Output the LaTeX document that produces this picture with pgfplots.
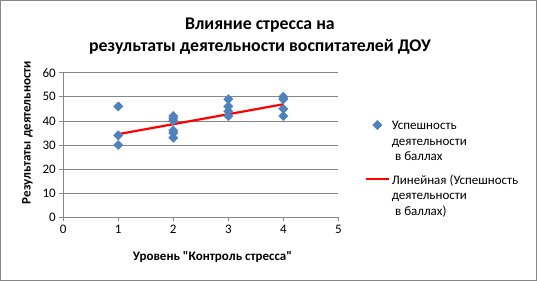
\documentclass[border=0pt]{standalone}
\usepackage{fontspec}
\setmainfont{Carlito}
\usepackage{pgfplots}
\pgfplotsset{compat=1.18}
\definecolor{mkblue}{HTML}{4F81BD}
\definecolor{gridgray}{HTML}{868686}
\newcommand{\lgtext}[1]{\begin{tabular}[t]{@{}l@{}}#1\end{tabular}}
\begin{document}
\begin{tikzpicture}[x=1pt,y=1pt]
\draw[gridgray, line width=0.75pt] (-62.9,-63.3) rectangle (473.3,216.9);
\begin{axis}[
  at={(0,0)}, anchor=south west,
  width=275pt, height=144.6pt, scale only axis,
  xmin=0, xmax=5, ymin=0, ymax=60,
  xtick={0,1,2,3,4,5}, ytick={0,10,20,30,40,50,60},
  axis x line*=bottom, axis y line*=left,
  axis line style={gridgray, line width=0.75pt},
  ymajorgrids, grid style={gridgray, line width=0.75pt},
  tick align=outside, major tick length=4pt,
  tick style={gridgray, line width=0.75pt},
  ticklabel style={font=\fontsize{13}{15}\selectfont, text=black},
  /pgf/number format/assume math mode=true,
  xlabel={Уровень \textquotedbl Контроль стресса\textquotedbl},
  ylabel={Результаты деятельности},
  label style={font=\bfseries\fontsize{13}{15}\selectfont},
  xlabel style={at={(axis description cs:0.5426,-0.277)}, anchor=center},
  ylabel style={at={(axis description cs:-0.130,0.586)}, anchor=center},
  title={Влияние стресса на\\результаты деятельности воспитателей ДОУ},
  title style={font=\bfseries\fontsize{17.8}{22}\selectfont, align=center,
    at={(axis description cs:0.715,1)}, anchor=south, yshift=9pt},
  legend cell align=left,
  legend style={at={(axis description cs:1.085,0.71)}, anchor=north west,
    draw=none, fill=none, font=\fontsize{13}{15.5}\selectfont,
    row sep=38pt},
]
\addplot[only marks, mark=square*, mark size=3.3pt,
  mark options={rotate=45, fill=mkblue, draw=mkblue}] coordinates {
  (1,46) (1,34) (1,30)
  (2,42) (2,41) (2,40) (2,36) (2,35) (2,33)
  (3,49) (3,46) (3,44) (3,42)
  (4,50) (4,49) (4,45) (4,42)
};
\addlegendentry{\lgtext{Успешность\\деятельности\\\hspace{0.25em}в баллах}}
\addplot[red, line width=2.2pt, no marks,
  legend image code/.code={\draw[red, line width=2.2pt] (-0.1cm,0cm) -- (0.7cm,0cm);}]
  coordinates {(1,34.5) (4,46.9)};
\addlegendentry{\lgtext{Линейная (Успешность\\деятельности\\\hspace{0.25em}в баллах)}}
\end{axis}
\end{tikzpicture}
\end{document}
